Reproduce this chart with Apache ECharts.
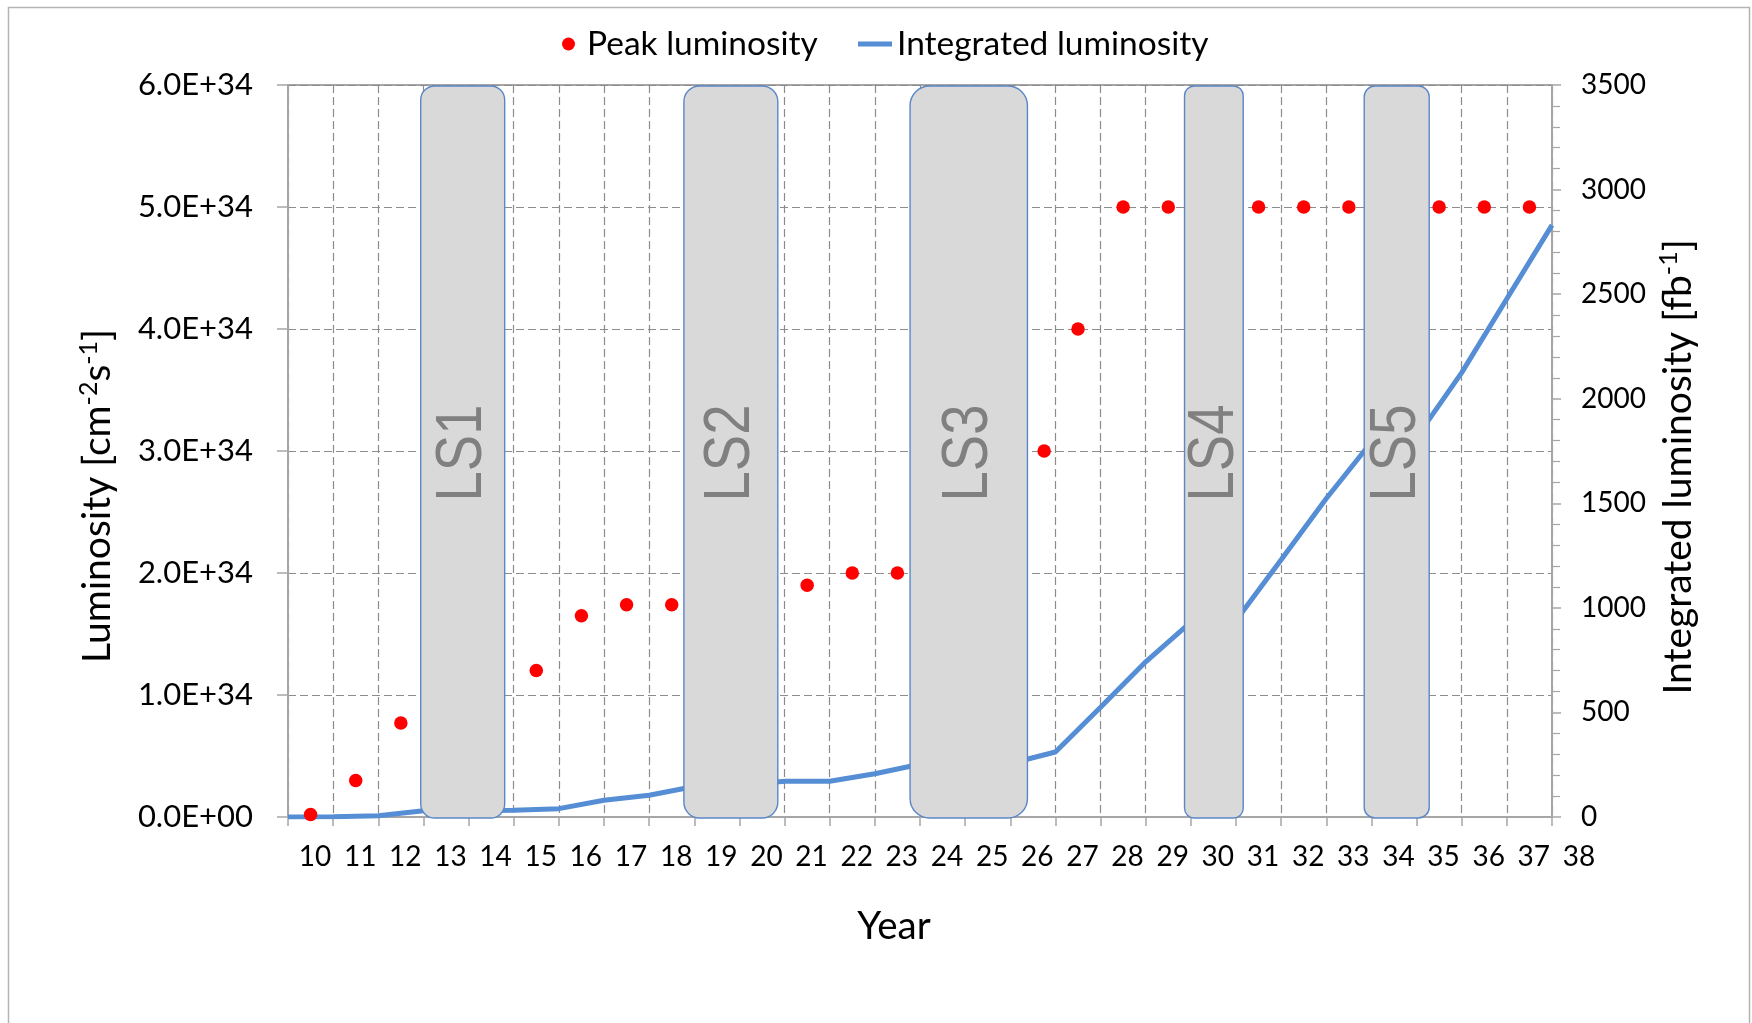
<!DOCTYPE html>
<html>
<head>
<meta charset="utf-8">
<script src="https://cdn.jsdelivr.net/npm/echarts@6/dist/echarts.min.js"></script>
<style>
html,body{margin:0;padding:0;background:#ffffff;}
#chart{width:1752px;height:1023px;}
</style>
</head>
<body>
<div id="chart"></div>
<script>
// ---- data ----
const yearMin = 10;
const yearMax = 38;

// Peak luminosity (cm^-2 s^-1), plotted at mid-year positions
const peakYears = [10.5, 11.5, 12.5, 15.5, 16.5, 17.5, 18.5, 21.5, 22.5, 23.5, 26.75, 27.5, 28.5, 29.5, 31.5, 32.5, 33.5, 35.5, 36.5, 37.5];
const peakLumi  = [0.02e34, 0.3e34, 0.77e34, 1.2e34, 1.65e34, 1.74e34, 1.74e34, 1.9e34, 2.0e34, 2.0e34, 3.0e34, 4.0e34, 5.0e34, 5.0e34, 5.0e34, 5.0e34, 5.0e34, 5.0e34, 5.0e34, 5.0e34];

// Integrated luminosity (fb^-1) at year boundaries
const intYears = [10, 11, 12, 13, 14, 15, 16, 17, 18, 19, 20, 21, 22, 23, 24, 25, 26, 27, 28, 29, 30, 31, 32, 33, 34, 35, 36, 37, 38];
const intLumi  = [0, 1, 6, 30, 30, 32, 40, 80, 104, 146, 151, 171, 171, 207, 252, 254, 256, 311, 525, 742, 932, 940, 1230, 1523, 1793, 1815, 2125, 2478, 2830];

// Long shutdowns (year spans)
const shutdownNames = ['LS1', 'LS2', 'LS3', 'LS4', 'LS5'];
const shutdownStart = [12.94, 18.77, 23.78, 29.86, 33.84];
const shutdownEnd   = [14.80, 20.85, 26.38, 31.16, 35.28];

// axis ranges
const leftMax = 6e34, leftStep = 1e34;
const rightMax = 3500, rightStep = 500;

// ---- chart ----
const FONT = 'Lato, "Liberation Sans", sans-serif';
const AXIS_GREY = '#A6A6A6';
const GRID_GREY = '#8C8C8C';

function sci(v) {
  let s = Number(v).toExponential(1).toUpperCase();
  return s.replace(/E([+-])(\d)$/, 'E$10$2');
}

const chart = echarts.init(document.getElementById('chart'), null, {renderer: 'canvas'});

const titleRich = {
  m: {fontSize: 39, fontFamily: FONT, color: '#000', verticalAlign: 'bottom', lineHeight: 48},
  s: {fontSize: 25, fontFamily: FONT, color: '#000', verticalAlign: 'bottom', lineHeight: 48, padding: [0, 0, 16, 0]}
};

const option = {
  animation: false,
  backgroundColor: '#ffffff',
  textStyle: {fontFamily: FONT},
  graphic: [{
    type: 'rect', silent: true, z: -10,
    shape: {x: 8.5, y: 7.5, width: 1741, height: 1100},
    style: {fill: 'none', stroke: '#B4B4B4', lineWidth: 1.5}
  }],
  legend: [
    {
      data: [{name: 'Peak luminosity', icon: 'circle'}],
      left: 557, top: 22, itemWidth: 27, itemHeight: 13,
      textStyle: {fontSize: 33.5, color: '#000', fontFamily: FONT}
    },
    {
      data: [{name: 'Integrated luminosity', icon: 'rect'}],
      left: 853, top: 22, itemWidth: 34, itemHeight: 5,
      textStyle: {fontSize: 33.5, color: '#000', fontFamily: FONT}
    }
  ],
  grid: {
    left: 288, top: 85, width: 1264, height: 732,
    show: true, borderColor: AXIS_GREY, borderWidth: 2, backgroundColor: 'transparent'
  },
  xAxis: [{
    type: 'value', min: yearMin, max: yearMax, interval: 1,
    name: 'Year', nameLocation: 'middle', nameGap: 90,
    nameTextStyle: {fontSize: 38.5, color: '#000', fontFamily: FONT, padding: [0, 52, 0, 0]},
    axisLine: {show: true, lineStyle: {color: AXIS_GREY, width: 2}},
    axisTick: {show: true, length: 9, lineStyle: {color: AXIS_GREY, width: 1.5}},
    axisLabel: {fontSize: 28, color: '#000', fontFamily: FONT, margin: 26, padding: [0, 0, 0, 54], showMinLabel: true, showMaxLabel: true},
    splitLine: {show: true, lineStyle: {color: GRID_GREY, type: [8, 4], width: 1.2}}
  }],
  yAxis: [
    {
      type: 'value', position: 'left', min: 0, max: leftMax, interval: leftStep,
      name: '{m|Luminosity [cm}{s|-2}{m|s}{s|-1}{m|]}',
      nameLocation: 'middle', nameRotate: 90, nameGap: 171,
      nameTextStyle: {rich: titleRich, padding: [0, 90, 0, 0]},
      axisLine: {show: true, lineStyle: {color: AXIS_GREY, width: 2}},
      axisTick: {show: true, length: 11, lineStyle: {color: AXIS_GREY, width: 1.5}},
      axisLabel: {fontSize: 31, color: '#000', fontFamily: FONT, margin: 35, formatter: sci},
      splitLine: {show: true, lineStyle: {color: GRID_GREY, type: [8, 4], width: 1.2}}
    },
    {
      type: 'value', position: 'right', min: 0, max: rightMax, interval: rightStep,
      name: '{m|Integrated luminosity [fb}{s|-1}{m|]}',
      nameLocation: 'middle', nameRotate: 90, nameGap: 84,
      nameTextStyle: {rich: titleRich, padding: [0, 32, 0, 0]},
      axisLine: {show: true, lineStyle: {color: AXIS_GREY, width: 2}},
      axisTick: {show: true, length: 9, lineStyle: {color: AXIS_GREY, width: 1.5}},
      minorTick: {show: true, splitNumber: 5, length: 8, lineStyle: {color: AXIS_GREY, width: 1.2}},
      axisLabel: {fontSize: 28, color: '#000', fontFamily: FONT, margin: 29, formatter: function (v) { return String(v); }},
      splitLine: {show: false}
    }
  ],
  series: [
    {
      name: 'Integrated luminosity', type: 'line',
      xAxisIndex: 0, yAxisIndex: 1, z: 2,
      symbol: 'none', smooth: false,
      lineStyle: {color: '#558ED5', width: 5},
      itemStyle: {color: '#558ED5'},
      data: intYears.map((x, i) => [x, intLumi[i]])
    },
    {
      name: 'Peak luminosity', type: 'scatter',
      xAxisIndex: 0, yAxisIndex: 0, z: 3,
      symbol: 'circle', symbolSize: 13.5,
      itemStyle: {color: '#FF0000', opacity: 1},
      data: peakYears.map((x, i) => [x, peakLumi[i]])
    },
    {
      name: 'Long shutdowns', type: 'custom',
      xAxisIndex: 0, yAxisIndex: 0, z: 5,
      encode: {x: [0, 1]},
      data: shutdownStart.map((s, i) => [s, shutdownEnd[i]]),
      renderItem: function (params, api) {
        const p0 = api.coord([api.value(0), leftMax]);
        const p1 = api.coord([api.value(1), 0]);
        const w = p1[0] - p0[0];
        const h = p1[1] - p0[1];
        return {
          type: 'group',
          children: [
            {
              type: 'rect',
              shape: {x: p0[0], y: p0[1] + 1, width: w, height: h, r: w * 0.1667},
              style: {fill: '#D9D9D9', stroke: '#5B87C8', lineWidth: 1.4}
            },
            {
              type: 'text',
              x: p0[0] + w / 2 + 1, y: p0[1] + h / 2 + 2,
              rotation: Math.PI / 2,
              scaleX: 0.85,
              style: {
                text: shutdownNames[params.dataIndex],
                fontSize: 64, fontFamily: '"Liberation Sans", sans-serif',
                fill: '#808080', align: 'center', verticalAlign: 'middle'
              }
            }
          ]
        };
      }
    }
  ]
};

chart.setOption(option);
</script>
</body>
</html>
